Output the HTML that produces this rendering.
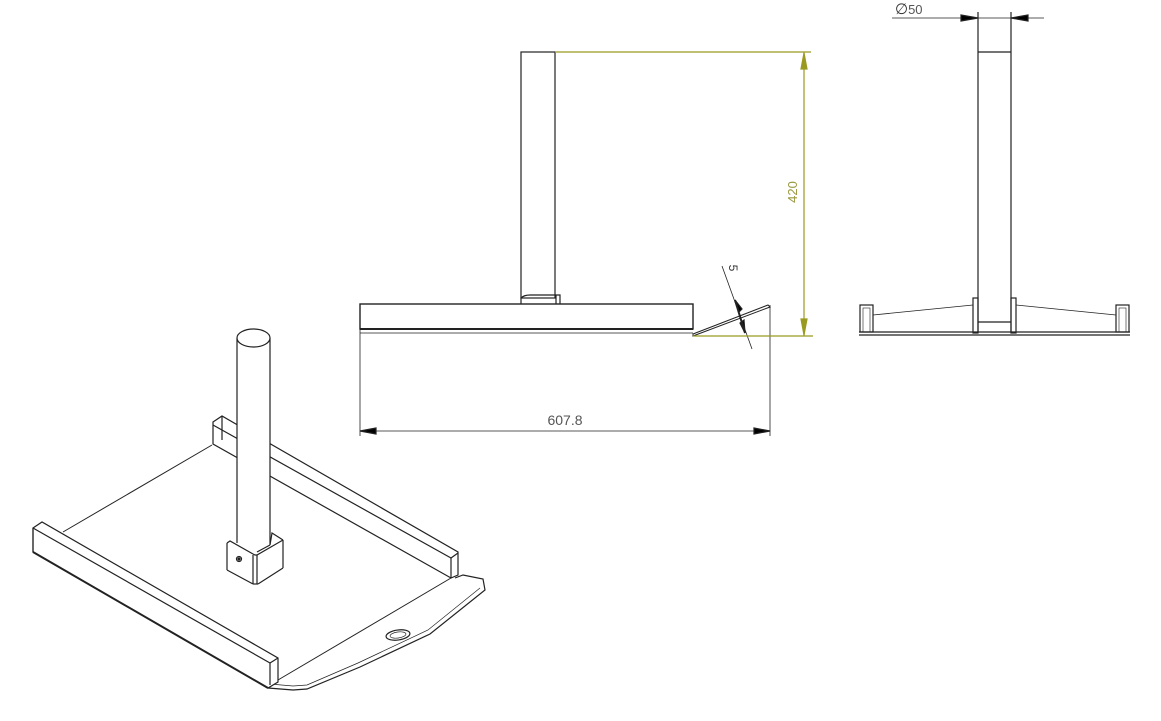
<!DOCTYPE html>
<html><head><meta charset="utf-8"><style>
html,body{margin:0;padding:0;background:#fff;}
svg{display:block;}
text{font-family:"Liberation Sans",sans-serif;}
</style></head><body>
<svg width="1161" height="721" viewBox="0 0 1161 721" xmlns="http://www.w3.org/2000/svg">
<g fill="none" stroke="#222" stroke-width="1.2">
<!-- ISO VIEW -->
<line x1="212" y1="445" x2="63" y2="532" stroke-width="1"/>
<polygon points="213,422 222,416 458,552 458,575 451,578 213,444" fill="#fff"/>
<line x1="222" y1="416" x2="222" y2="440"/>
<line x1="213" y1="425" x2="451" y2="558"/>
<line x1="451" y1="558" x2="451" y2="578"/>
<line x1="451" y1="558" x2="458" y2="553"/>
<line x1="278" y1="680" x2="451" y2="578" stroke-width="1"/>
<polyline points="268,688 293,690 307,689 360,667 430,634 485,590 483,579 463,575 455,578" stroke-width="1.2"/>
<polyline points="270,684 293,686 307,685 358,663 428,630 480,588" stroke-width="0.7"/>
<ellipse cx="398" cy="635" rx="12" ry="5" transform="rotate(-8 398 635)"/>
<ellipse cx="398" cy="635" rx="8" ry="3" transform="rotate(-8 398 635)" stroke-width="0.7"/>
<polygon points="33,528 42,522 278,658 278,682 268,688 33,552" fill="#fff"/>
<line x1="33" y1="528" x2="270" y2="663"/>
<line x1="270" y1="663" x2="278" y2="658"/>
<line x1="270" y1="663" x2="270" y2="685"/>
<line x1="33" y1="552" x2="268" y2="688" stroke-width="2"/>
<line x1="33" y1="528" x2="33" y2="552"/>
<!-- pole -->
<rect x="237" y="338" width="33" height="200" fill="#fff" stroke="none"/>
<line x1="237" y1="338" x2="237" y2="547"/>
<line x1="270" y1="338" x2="270" y2="545"/>
<ellipse cx="253.5" cy="338" rx="16.5" ry="9" fill="#fff"/>
<!-- socket -->
<polygon points="227,543 237,543 270,545 272,533 283,540 283,568 258,584 253,584 227,570" fill="#fff" stroke="none"/>
<polyline points="270,545 272,533 283,540"/>
<polyline points="227,543 230,541 253,554 255,555 257,555 283,540"/>
<line x1="227" y1="543" x2="227" y2="570"/>
<line x1="227" y1="570" x2="253" y2="584"/>
<line x1="253" y1="555" x2="253" y2="584"/>
<line x1="257" y1="555" x2="257" y2="584"/>
<line x1="253" y1="584" x2="258" y2="584"/>
<line x1="258" y1="584" x2="283" y2="568"/>
<line x1="283" y1="540" x2="283" y2="568"/>
<line x1="270" y1="545" x2="257" y2="552"/>
<circle cx="239" cy="559" r="2.5"/>
<circle cx="239" cy="559" r="1" fill="#222"/>

<!-- SIDE VIEW -->
<rect x="521" y="52" width="34" height="246"/>
<path d="M521,304 L521,298 Q524,295 530,295 L560,295 L560,304"/>
<line x1="556" y1="295" x2="556" y2="304"/>
<rect x="360" y="304" width="333" height="25" stroke-width="1.4"/>
<line x1="360" y1="329" x2="693" y2="329" stroke-width="2"/>
<line x1="360" y1="333" x2="693" y2="333" stroke-width="0.8"/>
<line x1="360" y1="304" x2="360" y2="436" stroke-width="0.8"/>
<polygon points="693,334 768,305 770,307 693,336" stroke-width="1"/>
<line x1="770" y1="305" x2="770" y2="436" stroke-width="0.8"/>
<line x1="360" y1="431" x2="770" y2="431" stroke-width="0.8"/>
<polygon points="360,431 376,428 376,434" fill="#000"/>
<polygon points="770,431 754,428 754,434" fill="#000"/>
<line x1="722" y1="266" x2="752" y2="349" stroke-width="0.8"/>
<polygon points="739,312 735,300 742,309" fill="#000"/>
<polygon points="744,320 745,333 740,323" fill="#000"/>
<line x1="735" y1="300" x2="745" y2="333" stroke-width="2"/>

<!-- END VIEW -->
<line x1="978" y1="12" x2="978" y2="333"/>
<line x1="1011" y1="12" x2="1011" y2="333"/>
<line x1="978" y1="52" x2="1011" y2="52"/>
<line x1="892" y1="18" x2="1044" y2="18" stroke-width="0.8"/>
<polygon points="978,18 961,15 961,21" fill="#000"/>
<polygon points="1011,18 1028,15 1028,21" fill="#000"/>
<line x1="859" y1="332" x2="1130" y2="332" stroke-width="1.2"/>
<line x1="859" y1="335" x2="1130" y2="335" stroke-width="1.2"/>
<rect x="860" y="305" width="13" height="27"/>
<rect x="863" y="308" width="7" height="24" stroke-width="0.6"/>
<rect x="1116" y="305" width="13" height="27"/>
<rect x="1119" y="308" width="7" height="24" stroke-width="0.6"/>
<rect x="973" y="298" width="5" height="35"/>
<rect x="1011" y="298" width="5" height="35"/>
<line x1="978" y1="322" x2="1011" y2="322"/>
<line x1="873" y1="315" x2="973" y2="305" stroke-width="0.8"/>
<line x1="1016" y1="305" x2="1116" y2="315" stroke-width="0.8"/>
</g>
<g stroke="#9a9a20" stroke-width="1.2" fill="none">
<line x1="555" y1="52" x2="811" y2="52"/>
<line x1="693" y1="336" x2="813" y2="336"/>
<line x1="804" y1="52" x2="804" y2="336"/>
<polygon points="804,53 801,69 807,69" fill="#9a9a20"/>
<polygon points="804,335 801,319 807,319" fill="#9a9a20"/>
</g>
<text x="0" y="0" transform="translate(797,192) rotate(-90)" text-anchor="middle" font-size="13" fill="#9a9a40">420</text>
<text x="565" y="425" text-anchor="middle" font-size="14" fill="#555">607.8</text>
<text x="0" y="0" transform="translate(729,268) rotate(90)" text-anchor="middle" font-size="12" fill="#333">5</text>
<text x="895" y="14" font-size="15" fill="#333">∅<tspan font-size="13" fill="#555">50</tspan></text>
</svg>
</body></html>
